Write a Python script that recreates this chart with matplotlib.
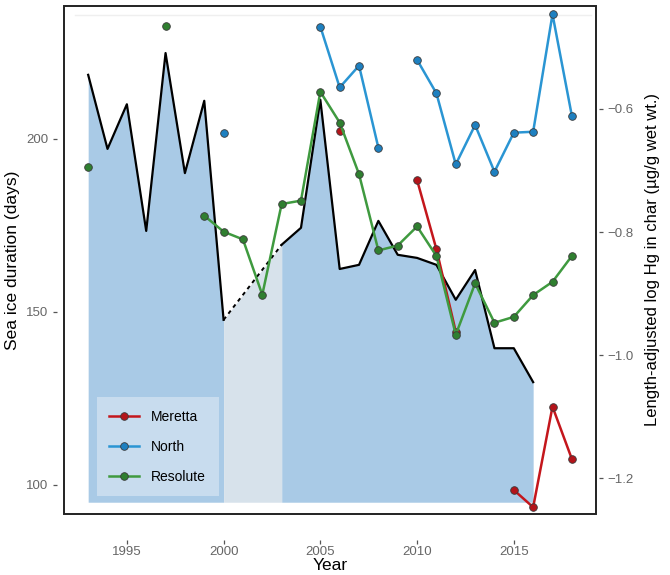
import numpy as np
import matplotlib.pyplot as plt
import matplotlib as mpl
from matplotlib.patches import Rectangle

mpl.rcParams["font.family"] = ["Liberation Sans", "DejaVu Sans"]

nan = np.nan

# sea ice duration (days)
ice_years = list(range(1993, 2017))
ice_days = [218.5, 197.1, 210.0, 173.4, 224.8, 190.1, 211.0, 147.7,
            nan, nan, 169.4, 174.3, 211.3, 162.4, 163.6, 176.3,
            166.5, 165.6, 163.6, 153.5, 162.1, 139.5, 139.5, 129.7]
ice_floor = 95

# length-adjusted log Hg in char
hg_years = list(range(1993, 2019))
meretta = [nan] * 13 + [-0.635, nan, nan, nan, -0.7155, -0.828, -0.962,
                        nan, nan, -1.2195, -1.2475, -1.084, -1.169]
north = [nan] * 7 + [-0.6395, nan, nan, nan, nan, -0.466, -0.565, -0.5295,
                     -0.663, nan, -0.520, -0.5745, -0.690, -0.626, -0.702,
                     -0.6385, -0.637, -0.446, -0.611]
resolute = [-0.695, nan, nan, nan, -0.465, nan, -0.7735, -0.7995, -0.812,
            -0.902, -0.7545, -0.749, -0.572, -0.622, -0.706, -0.830,
            -0.822, -0.791, -0.839, -0.967, -0.8835, -0.9475, -0.938,
            -0.9025, -0.881, -0.839]

sites = ["Meretta", "North", "Resolute"]
line_colors = ["#c4161c", "#2a95d3", "#3f9a3f"]
marker_colors = ["#b3141a", "#1e80c0", "#2f7f30"]

fig = plt.figure(figsize=(6.7, 5.75), dpi=100)
ax = fig.add_axes([0.0955, 0.1061, 0.7941, 0.8835])

yrs = np.array(ice_years, dtype=float)
days = np.array(ice_days, dtype=float)

# shaded area under the ice curve
seg1 = yrs <= 2000
seg2 = yrs >= 2003
ax.fill_between(yrs[seg1], ice_floor, days[seg1], color="#a9cae6", lw=0, zorder=1)
ax.fill_between(yrs[seg2], ice_floor, days[seg2], color="#a9cae6", lw=0, zorder=1)
gap_x = [2000, 2003]
gap_y = [days[yrs == 2000][0], days[yrs == 2003][0]]
ax.fill_between(gap_x, ice_floor, gap_y, color="#d7e2eb", lw=0, zorder=1)

ax.plot(yrs[seg1], days[seg1], color="black", lw=1.6, zorder=3)
ax.plot(yrs[seg2], days[seg2], color="black", lw=1.6, zorder=3)
ax.plot(gap_x, gap_y, color="black", lw=1.4, ls=(0, (2, 2)), zorder=3)

ax.axhline(235.8, xmin=0.02, xmax=0.99, color="#efefef", lw=1, zorder=0)

ax.set_xlim(1991.75, 2019.25)
ax.set_ylim(91.6, 238.4)
ax.set_xticks([1995, 2000, 2005, 2010, 2015])
ax.set_yticks([100, 150, 200])
ax.set_xlabel("Year", fontsize=12.5, labelpad=0)
ax.set_ylabel("Sea ice duration (days)", fontsize=12.5, labelpad=4)

ax2 = ax.twinx()
ax2.set_ylim(-1.2585, -0.4325)
ax2.set_yticks([-1.2, -1.0, -0.8, -0.6])
ax2.set_yticklabels(["\u22121.2", "\u22121.0", "\u22120.8", "\u22120.6"])
ax2.set_ylabel("Length-adjusted log Hg in char (\u00b5g/g wet wt.)",
               fontsize=12, labelpad=8)

for name, vals, lc, mc in zip(sites, [meretta, north, resolute],
                              line_colors, marker_colors):
    ax2.plot(hg_years, vals, color=lc, lw=1.8, marker="o", ms=5.5,
             mfc=mc, mec="#3a3a3a", mew=0.6, label=name, zorder=4)

leg = ax2.legend(loc="lower left", bbox_to_anchor=(0.049, 0.021),
                 frameon=True, fancybox=False, fontsize=10,
                 handlelength=2.1, labelspacing=1.15, borderpad=0.9,
                 handletextpad=0.9)
leg.get_frame().set_facecolor("#c8dcee")
leg.get_frame().set_edgecolor("none")
leg.get_frame().set_alpha(1)

for a in (ax, ax2):
    for s in a.spines.values():
        s.set_visible(False)
ax.spines["bottom"].set_position(("outward", 19))
ax.spines["left"].set_position(("outward", 5))
ax2.spines["right"].set_position(("outward", 2))
ax.add_patch(Rectangle((0, 0), 1, 1, transform=ax.transAxes, fill=False,
                       ec="#222222", lw=1.4, zorder=10, clip_on=False))

ax.tick_params(axis="both", colors="#555555", labelcolor="#666666",
               labelsize=9.5, length=3, width=0.9)
ax2.tick_params(axis="y", colors="#555555", labelcolor="#666666",
                labelsize=9.5, length=3, width=0.9)
ax.tick_params(axis="x", pad=1)

fig.savefig("out.png", dpi=100)
